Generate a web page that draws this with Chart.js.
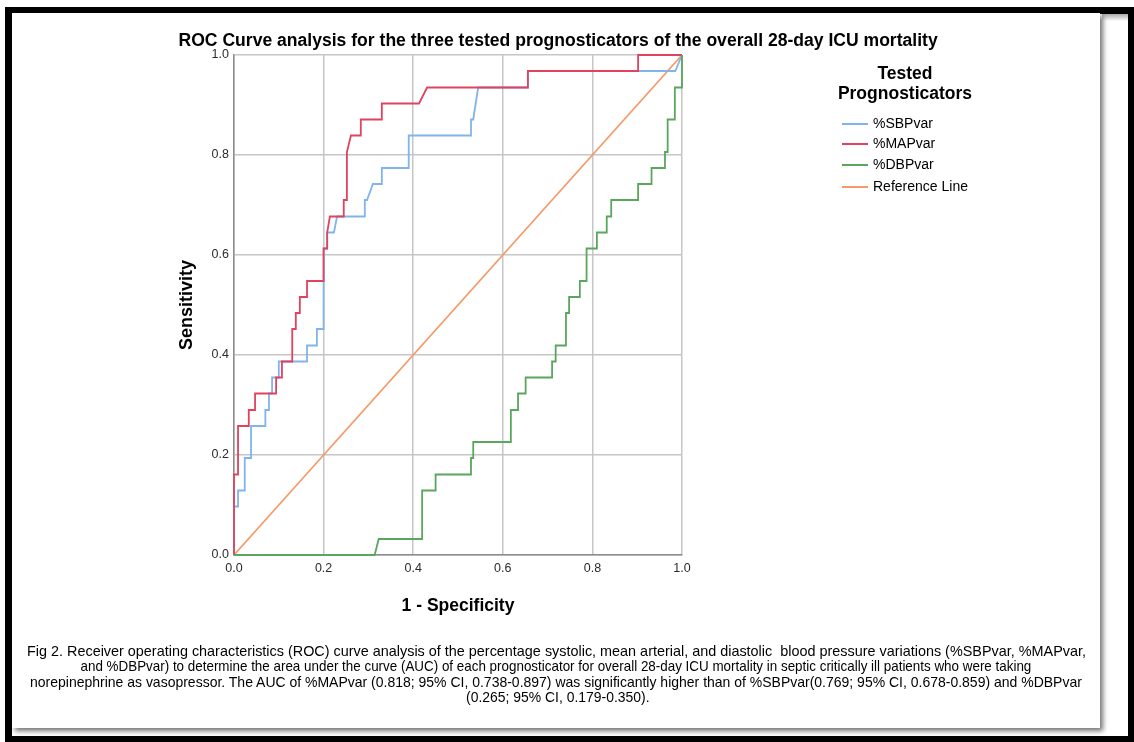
<!DOCTYPE html>
<html>
<head>
<meta charset="utf-8">
<script src="https://cdn.jsdelivr.net/npm/chart.js@4.4.1/dist/chart.umd.min.js"></script>
<style>
  html, body { margin:0; padding:0; background:#fff; }
  body { width:1134px; height:742px; position:relative; overflow:hidden; font-family:"Liberation Sans", Arial, sans-serif; }
  #frame { position:absolute; left:5px; top:7px; width:1129px; height:735px; box-sizing:border-box; border:7px solid #000; border-right-width:6px; border-bottom-width:6px; background:#fff; }
  #topstrip { position:absolute; left:1102px; top:14px; width:26px; height:7px; background:linear-gradient(#a9a9a9, #fff); }
  #panel { position:absolute; left:12px; top:13px; width:1088px; height:715px; background:#fff; box-shadow:3px 3px 5px rgba(0,0,0,0.55); }
  #chart { position:absolute; left:0; top:0; }
  .txt { position:absolute; white-space:pre; color:#000; transform-origin:center center; }
  #title { font-weight:bold; font-size:18px; top:30px; }
  .legtitle { font-weight:bold; font-size:17.5px; left:805px; width:200px; text-align:center; }
  .legline { position:absolute; left:842px; width:26px; height:2px; }
  .leglab { font-size:14px; left:873px; }
  .cap { font-size:15px; }
</style>
</head>
<body>
<div id="frame"></div>
<div id="topstrip"></div>
<div id="panel"></div>
<canvas id="chart" width="1134" height="742"></canvas>

<div id="title" class="txt">ROC Curve analysis for the three tested prognosticators of the overall 28-day ICU mortality</div>

<div class="txt legtitle" style="top:63px">Tested</div>
<div class="txt legtitle" style="top:83px">Prognosticators</div>
<div class="legline" style="top:123px;background:#80b4ec"></div>
<div class="txt leglab" style="top:115px">%SBPvar</div>
<div class="legline" style="top:143px;background:#e1435f"></div>
<div class="txt leglab" style="top:135px">%MAPvar</div>
<div class="legline" style="top:164px;background:#5aa65c"></div>
<div class="txt leglab" style="top:156px">%DBPvar</div>
<div class="legline" style="top:186px;background:#f59a68"></div>
<div class="txt leglab" style="top:178px">Reference Line</div>

<div class="txt cap" id="cap1" style="top:642px">Fig 2. Receiver operating characteristics (ROC) curve analysis of the percentage systolic, mean arterial, and diastolic  blood pressure variations (%SBPvar, %MAPvar,</div>
<div class="txt cap" id="cap2" style="top:657px">and %DBPvar) to determine the area under the curve (AUC) of each prognosticator for overall 28-day ICU mortality in septic critically ill patients who were taking</div>
<div class="txt cap" id="cap3" style="top:673px">norepinephrine as vasopressor. The AUC of %MAPvar (0.818; 95% CI, 0.738-0.897) was significantly higher than of %SBPvar(0.769; 95% CI, 0.678-0.859) and %DBPvar</div>
<div class="txt cap" id="cap4" style="top:688px">(0.265; 95% CI, 0.179-0.350).</div>

<script>
// ---- data ----
const sbpFPR = [0, 0, 0.009, 0.009, 0.024, 0.024, 0.038, 0.038, 0.070, 0.070, 0.078, 0.078, 0.085, 0.085, 0.100, 0.100, 0.163, 0.163, 0.185, 0.185, 0.200, 0.200, 0.208, 0.208, 0.223, 0.230, 0.292, 0.292, 0.297, 0.310, 0.330, 0.330, 0.390, 0.390, 0.529, 0.529, 0.534, 0.545, 0.656, 0.656, 0.985, 1.000];
const sbpTPR = [0, 0.097, 0.097, 0.129, 0.129, 0.194, 0.194, 0.258, 0.258, 0.290, 0.290, 0.323, 0.323, 0.355, 0.355, 0.387, 0.387, 0.419, 0.419, 0.452, 0.452, 0.613, 0.613, 0.645, 0.645, 0.677, 0.677, 0.710, 0.710, 0.742, 0.742, 0.774, 0.774, 0.839, 0.839, 0.871, 0.871, 0.935, 0.935, 0.968, 0.968, 1.000];

const mapFPR = [0, 0, 0.009, 0.009, 0.033, 0.033, 0.047, 0.047, 0.094, 0.094, 0.107, 0.107, 0.130, 0.130, 0.138, 0.138, 0.147, 0.147, 0.163, 0.163, 0.200, 0.200, 0.208, 0.208, 0.214, 0.245, 0.245, 0.252, 0.252, 0.261, 0.283, 0.283, 0.330, 0.330, 0.413, 0.431, 0.656, 0.656, 0.902, 0.902, 1.000];
const mapTPR = [0, 0.161, 0.161, 0.258, 0.258, 0.290, 0.290, 0.323, 0.323, 0.355, 0.355, 0.387, 0.387, 0.452, 0.452, 0.484, 0.484, 0.516, 0.516, 0.548, 0.548, 0.613, 0.613, 0.645, 0.677, 0.677, 0.710, 0.710, 0.806, 0.839, 0.839, 0.871, 0.871, 0.903, 0.903, 0.935, 0.935, 0.968, 0.968, 1.000, 1.000];

const dbpFPR = [0, 0.314, 0.323, 0.420, 0.420, 0.450, 0.450, 0.529, 0.529, 0.534, 0.534, 0.618, 0.618, 0.634, 0.634, 0.651, 0.651, 0.710, 0.710, 0.718, 0.718, 0.741, 0.741, 0.748, 0.748, 0.772, 0.772, 0.787, 0.787, 0.810, 0.810, 0.832, 0.832, 0.842, 0.842, 0.902, 0.902, 0.932, 0.932, 0.962, 0.962, 0.968, 0.968, 0.984, 0.984, 1.000, 1.000];
const dbpTPR = [0, 0, 0.032, 0.032, 0.129, 0.129, 0.161, 0.161, 0.194, 0.194, 0.226, 0.226, 0.290, 0.290, 0.323, 0.323, 0.355, 0.355, 0.387, 0.387, 0.419, 0.419, 0.484, 0.484, 0.516, 0.516, 0.548, 0.548, 0.613, 0.613, 0.645, 0.645, 0.677, 0.677, 0.710, 0.710, 0.742, 0.742, 0.774, 0.774, 0.806, 0.806, 0.871, 0.871, 0.935, 0.935, 1.000];

const refX = [0, 1];
const refY = [0, 1];

const tickValues = [0, 0.2, 0.4, 0.6, 0.8, 1.0];
const seriesNames = ['%SBPvar', '%MAPvar', '%DBPvar', 'Reference Line'];
const seriesColors = ['#80b4ec', '#e1435f', '#5aa65c', '#f59a68'];

const pts = (xs, ys) => xs.map((x, i) => ({x: x, y: ys[i]}));

const ds = (i, xs, ys, order) => ({
  label: seriesNames[i], data: pts(xs, ys), borderColor: seriesColors[i],
  borderWidth: 1.8, pointRadius: 0, showLine: true, tension: 0, fill: false,
  clip: 4, order: order
});

const axisCommon = {
  type: 'linear', min: 0, max: 1,
  grid: { color: '#c6c6c6', lineWidth: 1.5, drawTicks: false },
  border: { color: '#8c8c8c', width: 1.5 },
  afterBuildTicks: s => { s.ticks = tickValues.map(v => ({value: v})); }
};

new Chart(document.getElementById('chart'), {
  type: 'scatter',
  data: { datasets: [
    ds(0, sbpFPR, sbpTPR, 3),
    ds(1, mapFPR, mapTPR, 2),
    ds(2, dbpFPR, dbpTPR, 1),
    ds(3, refX, refY, 4)
  ]},
  options: {
    responsive: false, animation: false, devicePixelRatio: 1,
    layout: { padding: { left: 160, right: 452, top: 55, bottom: 117 } },
    plugins: { legend: { display: false }, tooltip: { enabled: false }, title: { display: false } },
    scales: {
      x: Object.assign({}, axisCommon, {
        position: 'bottom',
        ticks: { padding: 6, color: '#2b2b2b', font: { family: 'Liberation Sans', size: 12.5 }, callback: v => v.toFixed(1), maxRotation: 0 },
        title: { display: true, text: '1 - Specificity', color: '#000', font: { family: 'Liberation Sans', size: 17.5, weight: 'bold' }, padding: { top: 0, bottom: 8 } },
        afterFit: s => { s.height = 70; }
      }),
      y: Object.assign({}, axisCommon, {
        position: 'left',
        ticks: { padding: 5, color: '#2b2b2b', font: { family: 'Liberation Sans', size: 12.5 }, callback: v => v.toFixed(1) },
        title: { display: true, text: 'Sensitivity', color: '#000', font: { family: 'Liberation Sans', size: 18, weight: 'bold' }, padding: { top: 16, bottom: 0 } },
        afterFit: s => { s.width = 74; }
      })
    }
  }
});

// fit condensed texts to the extents measured on the reference (left, right)
function fitSpan(id, x0, x1) {
  const el = document.getElementById(id);
  const w = el.offsetWidth;
  const k = (x1 - x0) / w;
  el.style.left = ((x0 + x1) / 2 - w / 2) + 'px';
  el.style.transform = 'scaleX(' + k + ')';
  return k;
}
function fitScale(id, cx, k) {
  const el = document.getElementById(id);
  const w = el.offsetWidth;
  el.style.left = (cx - w / 2) + 'px';
  el.style.transform = 'scaleX(' + k + ')';
}
fitSpan('title', 178, 937);
const k1 = fitSpan('cap1', 27, 1086);
const k2 = fitSpan('cap2', 80, 1031);
const k3 = fitSpan('cap3', 30, 1082);
fitScale('cap4', 558, (k1 + k2 + k3) / 3);
</script>
</body>
</html>
